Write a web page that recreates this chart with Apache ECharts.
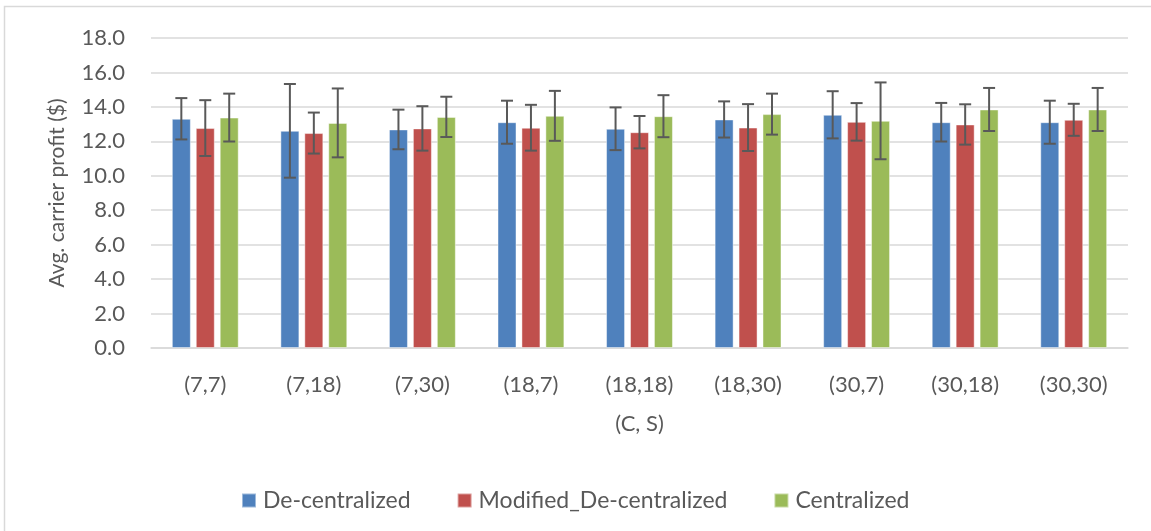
<!DOCTYPE html>
<html>
<head>
<meta charset="utf-8">
<script src="https://cdn.jsdelivr.net/npm/echarts@6/dist/echarts.min.js"></script>
<style>html,body{margin:0;padding:0;background:#fff;}#c{width:1151px;height:531px;}</style>
</head>
<body>
<div id="c"></div>
<script>
const categories = ['(7,7)', '(7,18)', '(7,30)', '(18,7)', '(18,18)', '(18,30)', '(30,7)', '(30,18)', '(30,30)'];
const seriesNames = ['De-centralized', 'Modified_De-centralized', 'Centralized'];
const decentral = [13.31, 12.61, 12.69, 13.11, 12.73, 13.27, 13.54, 13.11, 13.11];
const decentralErr = [1.20, 2.72, 1.15, 1.25, 1.24, 1.05, 1.37, 1.12, 1.25];
const modified = [12.77, 12.48, 12.75, 12.79, 12.53, 12.80, 13.13, 12.98, 13.25];
const modifiedErr = [1.62, 1.19, 1.29, 1.33, 0.94, 1.36, 1.09, 1.17, 0.93];
const centralized = [13.38, 13.07, 13.42, 13.48, 13.46, 13.58, 13.19, 13.85, 13.85];
const centralizedErr = [1.39, 2.00, 1.17, 1.45, 1.22, 1.19, 2.23, 1.25, 1.25];
const yTicks = {min: 0, max: 18, interval: 2};

const values = [decentral, modified, centralized];
const errs = [decentralErr, modifiedErr, centralizedErr];
const colors = ['#4f81bd', '#c0504d', '#9bbb59'];
const BAR_W = 19, BAR_GAP = 0.26;
const FONT = 'Lato, "Open Sans", sans-serif';
const TXT = '#595959';

const chart = echarts.init(document.getElementById('c'));

const barSeries = values.map((v, i) => ({
  name: seriesNames[i],
  type: 'bar',
  data: v,
  barWidth: BAR_W,
  barGap: (BAR_GAP * 100) + '%',
  itemStyle: {color: colors[i], borderColor: 'rgba(255,255,255,0.45)', borderWidth: 1},
  emphasis: {disabled: true},
  z: 2
}));

const errSeries = values.map((v, i) => ({
  type: 'custom',
  name: 'err' + i,
  data: v.map((val, k) => [k, val - errs[i][k], val + errs[i][k]]),
  encode: {x: 0, y: [1, 2]},
  z: 5,
  silent: true,
  renderItem: function (params, api) {
    const k = api.value(0);
    const lo = api.coord([k, api.value(1)]);
    const hi = api.coord([k, api.value(2)]);
    const off = (i - 1) * BAR_W * (1 + BAR_GAP);
    const x = lo[0] + off;
    const cap = 6;
    const style = {stroke: '#595959', lineWidth: 2, fill: null};
    return {
      type: 'group',
      children: [
        {type: 'line', shape: {x1: x, y1: lo[1], x2: x, y2: hi[1]}, style: style},
        {type: 'line', shape: {x1: x - cap, y1: lo[1], x2: x + cap, y2: lo[1]}, style: style},
        {type: 'line', shape: {x1: x - cap, y1: hi[1], x2: x + cap, y2: hi[1]}, style: style}
      ]
    };
  }
}));

chart.setOption({
  animation: false,
  backgroundColor: '#fff',
  textStyle: {fontFamily: FONT},
  graphic: [{
    type: 'rect',
    shape: {x: 4.5, y: 6.5, width: 1160, height: 540},
    style: {fill: null, stroke: '#d9d9d9', lineWidth: 1.5},
    silent: true, z: -1
  }],
  grid: {left: 151, right: 23, top: 38, bottom: 183, containLabel: false},
  legend: {
    data: seriesNames,
    left: 236,
    top: 484,
    padding: 5,
    itemWidth: 14,
    itemHeight: 14,
    itemGap: 46,
    icon: 'rect',
    textStyle: {color: TXT, fontSize: 23, fontFamily: FONT, padding: [0, 0, 0, 2]}
  },
  xAxis: {
    type: 'category',
    data: categories,
    name: '(C, S)',
    nameLocation: 'middle',
    nameGap: 65,
    nameTextStyle: {color: TXT, fontSize: 22, fontFamily: FONT},
    axisLine: {lineStyle: {color: '#d9d9d9', width: 1.5}},
    axisTick: {show: false},
    axisLabel: {color: TXT, fontSize: 22, fontFamily: FONT, margin: 26}
  },
  yAxis: {
    type: 'value',
    min: yTicks.min,
    max: yTicks.max,
    interval: yTicks.interval,
    name: 'Avg. carrier profit ($)',
    nameLocation: 'middle',
    nameGap: 83,
    nameTextStyle: {color: TXT, fontSize: 21, fontFamily: FONT},
    axisLine: {show: false},
    axisTick: {show: false},
    splitLine: {lineStyle: {color: '#d9d9d9', width: 1.5}},
    axisLabel: {color: TXT, fontSize: 22, fontFamily: FONT, margin: 26, formatter: v => v.toFixed(1)}
  },
  series: barSeries.concat(errSeries)
});
</script>
</body>
</html>
